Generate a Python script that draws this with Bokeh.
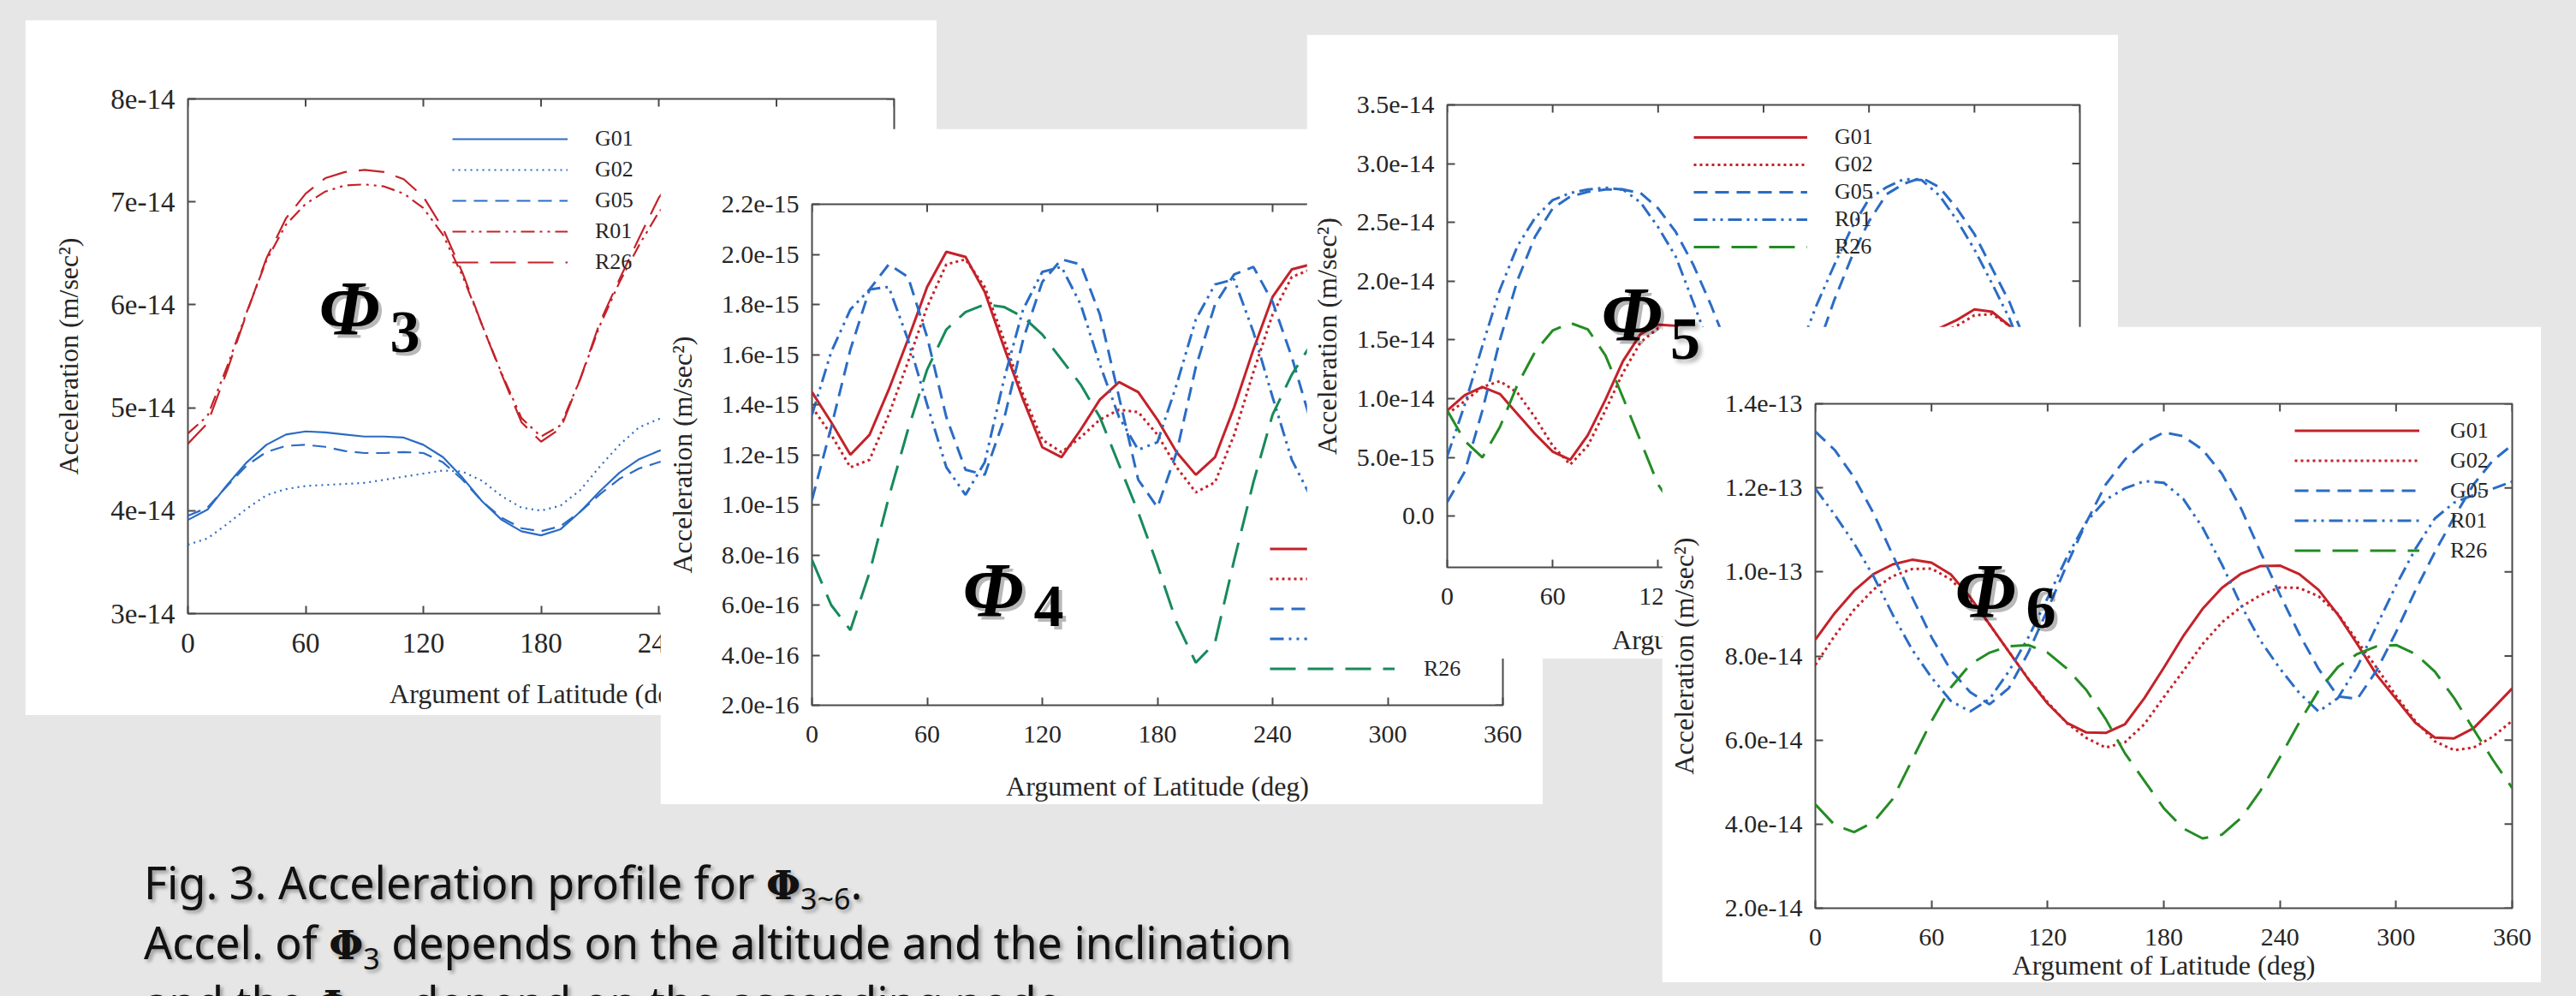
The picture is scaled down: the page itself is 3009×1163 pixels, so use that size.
import math
from bokeh.plotting import figure
from bokeh.models import (GridBox, Range1d, FixedTicker, CustomJSTickFormatter,
                          Legend, LegendItem, Label, Div)
from bokeh.embed import file_html
from bokeh.resources import INLINE
from bokeh.core.properties import value

# ------------------------------------------------------------------ data
SERIES = ["G01", "G02", "G05", "R01", "R26"]
X_TICKS = [0, 60, 120, 180, 240, 300, 360]
X_LABEL = "Argument of Latitude (deg)"
Y_LABEL = "Acceleration (m/sec\u00b2)"

# Phi3 panel (values in 1e-14 m/s^2); only 0..250 deg is visible in the slide
PHI3_DEG = list(range(0, 251, 10))
PHI3_G01 = [3.91, 4.01, 4.25, 4.47, 4.64, 4.74, 4.77, 4.76, 4.74, 4.72, 4.72, 4.71, 4.64,
            4.52, 4.32, 4.09, 3.91, 3.80, 3.76, 3.82, 3.99, 4.19, 4.37, 4.50, 4.58, 4.64]
PHI3_G02 = [3.67, 3.73, 3.87, 4.02, 4.15, 4.21, 4.24, 4.25, 4.26, 4.27, 4.30, 4.33, 4.36,
            4.39, 4.38, 4.29, 4.14, 4.03, 4.00, 4.05, 4.20, 4.43, 4.64, 4.81, 4.89, 4.92]
PHI3_G05 = [3.95, 4.03, 4.24, 4.44, 4.57, 4.63, 4.64, 4.62, 4.58, 4.56, 4.56, 4.57, 4.56,
            4.47, 4.30, 4.09, 3.93, 3.83, 3.80, 3.85, 3.99, 4.16, 4.31, 4.41, 4.47, 4.52]
PHI3_R01 = [4.75, 4.92, 5.40, 5.93, 6.43, 6.78, 6.98, 7.10, 7.16, 7.17, 7.15, 7.08, 6.94,
            6.68, 6.28, 5.80, 5.33, 4.90, 4.72, 4.83, 5.28, 5.80, 6.22, 6.58, 6.90, 7.10]
PHI3_R26 = [4.65, 4.85, 5.36, 5.92, 6.45, 6.84, 7.08, 7.23, 7.29, 7.31, 7.29, 7.22, 7.05,
            6.74, 6.31, 5.80, 5.32, 4.86, 4.67, 4.80, 5.28, 5.83, 6.25, 6.65, 7.04, 7.30]
PHI3_UNIT = 1e-14
PHI3_YTICKS = [3e-14, 4e-14, 5e-14, 6e-14, 7e-14, 8e-14]

# Phi4 panel (values in 1e-15 m/s^2); visible 0..260 deg
PHI4_DEG = list(range(0, 261, 10))
PHI4_G01 = [1.45, 1.33, 1.20, 1.28, 1.46, 1.66, 1.87, 2.01, 1.99, 1.85, 1.63, 1.42, 1.23, 1.19,
            1.30, 1.42, 1.49, 1.45, 1.34, 1.21, 1.12, 1.19, 1.39, 1.62, 1.83, 1.94, 1.96]
PHI4_G02 = [1.39, 1.28, 1.15, 1.18, 1.36, 1.57, 1.79, 1.96, 1.98, 1.87, 1.66, 1.44, 1.26, 1.21,
            1.27, 1.34, 1.38, 1.37, 1.28, 1.15, 1.05, 1.09, 1.28, 1.53, 1.76, 1.91, 1.94]
PHI4_G05 = [1.02, 1.31, 1.62, 1.86, 1.96, 1.91, 1.67, 1.35, 1.14, 1.12, 1.34, 1.66, 1.89, 1.98,
            1.96, 1.76, 1.43, 1.10, 0.99, 1.21, 1.55, 1.80, 1.92, 1.95, 1.81, 1.59, 1.33]
PHI4_R01 = [1.36, 1.61, 1.78, 1.86, 1.87, 1.66, 1.40, 1.15, 1.04, 1.17, 1.50, 1.78, 1.93, 1.95,
            1.80, 1.56, 1.35, 1.22, 1.25, 1.48, 1.74, 1.88, 1.90, 1.69, 1.43, 1.18, 1.03]
PHI4_R26 = [0.78, 0.60, 0.50, 0.73, 1.03, 1.30, 1.54, 1.70, 1.77, 1.80, 1.79, 1.75, 1.68, 1.58,
            1.48, 1.35, 1.16, 0.97, 0.76, 0.53, 0.37, 0.45, 0.78, 1.09, 1.36, 1.52, 1.64]
PHI4_UNIT = 1e-15
PHI4_YTICKS = [2e-16, 4e-16, 6e-16, 8e-16, 1e-15, 1.2e-15, 1.4e-15, 1.6e-15, 1.8e-15, 2e-15, 2.2e-15]

# Phi5 panel (values in 1e-14 m/s^2)
PHI5_DEG = list(range(0, 361, 10))
PHI5_G01 = [0.90, 1.03, 1.10, 1.04, 0.87, 0.70, 0.55, 0.48, 0.69, 0.99, 1.32, 1.55, 1.63,
            1.62, 1.50, 1.30, 1.05, 0.85, 0.75, 0.70, 0.72, 0.80, 0.92, 1.08, 1.25, 1.40,
            1.50, 1.55, 1.60, 1.67, 1.76, 1.74, 1.62, 1.40, 1.15, 1.00, 0.90]
PHI5_G02 = [0.87, 0.98, 1.10, 1.15, 1.05, 0.84, 0.60, 0.44, 0.60, 0.90, 1.22, 1.48, 1.60,
            1.60, 1.48, 1.28, 1.02, 0.80, 0.68, 0.64, 0.66, 0.74, 0.86, 1.02, 1.20, 1.36,
            1.47, 1.52, 1.56, 1.62, 1.71, 1.72, 1.62, 1.42, 1.18, 0.98, 0.87]
PHI5_G05 = [0.12, 0.38, 0.90, 1.50, 2.01, 2.38, 2.62, 2.72, 2.76, 2.78, 2.78, 2.75, 2.62,
            2.42, 2.14, 1.80, 1.42, 1.02, 0.68, 0.55, 0.90, 1.40, 1.83, 2.20, 2.51, 2.74,
            2.83, 2.88, 2.80, 2.62, 2.40, 2.11, 1.82, 1.45, 0.95, 0.48, 0.12]
PHI5_R01 = [0.51, 0.95, 1.45, 1.93, 2.30, 2.54, 2.69, 2.75, 2.78, 2.795, 2.78, 2.67, 2.46,
            2.21, 1.82, 1.42, 1.00, 0.70, 0.68, 0.95, 1.40, 1.79, 2.13, 2.45, 2.70, 2.80,
            2.87, 2.86, 2.73, 2.52, 2.27, 1.98, 1.68, 1.30, 0.95, 0.65, 0.51]
PHI5_R26 = [0.90, 0.64, 0.50, 0.76, 1.12, 1.40, 1.58, 1.645, 1.59, 1.37, 1.01, 0.64, 0.27,
            0.05, 0.00, 0.15, 0.45, 0.80, 1.10, 1.30, 1.38, 1.30, 1.10, 0.80, 0.50, 0.30,
            0.25, 0.40, 0.70, 1.05, 1.35, 1.50, 1.50, 1.40, 1.25, 1.08, 0.90]
PHI5_UNIT = 1e-14
PHI5_YTICKS = [0.0, 5e-15, 1e-14, 1.5e-14, 2e-14, 2.5e-14, 3e-14, 3.5e-14]

# Phi6 panel (values in 1e-14 m/s^2)
PHI6_DEG = list(range(0, 361, 10))
PHI6_G01 = [8.39, 9.02, 9.55, 9.95, 10.18, 10.29, 10.22, 9.94, 9.40, 8.75, 8.10, 7.45, 6.87,
            6.41, 6.18, 6.17, 6.38, 7.00, 7.72, 8.47, 9.12, 9.62, 9.96, 10.14, 10.15, 9.95,
            9.57, 8.98, 8.28, 7.55, 6.98, 6.41, 6.06, 6.04, 6.28, 6.75, 7.23]
PHI6_G02 = [7.79, 8.48, 9.10, 9.58, 9.90, 10.07, 10.08, 9.82, 9.35, 8.75, 8.10, 7.46, 6.90,
            6.40, 6.05, 5.82, 5.95, 6.38, 7.02, 7.64, 8.28, 8.80, 9.17, 9.45, 9.63, 9.62,
            9.42, 9.00, 8.35, 7.72, 7.05, 6.45, 5.97, 5.76, 5.82, 6.08, 6.46]
PHI6_G05 = [13.34, 12.90, 12.25, 11.40, 10.40, 9.40, 8.45, 7.66, 7.14, 6.85, 7.24, 8.08, 9.11,
            10.18, 11.18, 12.08, 12.68, 13.08, 13.32, 13.23, 12.91, 12.34, 11.50, 10.47, 9.46,
            8.52, 7.69, 7.04, 6.98, 7.66, 8.57, 9.56, 10.47, 11.30, 12.08, 12.65, 13.02]
PHI6_R01 = [11.98, 11.36, 10.68, 9.90, 8.98, 8.15, 7.49, 6.93, 6.68, 6.98, 7.64, 8.44, 9.38,
            10.36, 11.19, 11.72, 11.99, 12.16, 12.12, 11.74, 11.06, 10.18, 9.20, 8.36, 7.70,
            7.12, 6.68, 7.00, 7.75, 8.72, 9.68, 10.55, 11.27, 11.65, 11.83, 11.98, 12.15]
PHI6_R26 = [4.47, 3.98, 3.81, 4.05, 4.60, 5.53, 6.45, 7.25, 7.80, 8.08, 8.23, 8.26, 8.08,
            7.70, 7.19, 6.50, 5.68, 5.03, 4.38, 3.90, 3.66, 3.75, 4.15, 4.80, 5.59, 6.42,
            7.18, 7.74, 8.05, 8.23, 8.26, 8.05, 7.63, 7.00, 6.26, 5.53, 4.86]
PHI6_UNIT = 1e-14
PHI6_YTICKS = [2e-14, 4e-14, 6e-14, 8e-14, 1e-13, 1.2e-13, 1.4e-13]

CAPTION_1 = ["Fig. 3. Acceleration profile for ", "\u03a6", "3~6", "."]
CAPTION_2 = ["Accel. of ", "\u03a6", "3", " depends on the altitude and the inclination"]
CAPTION_3 = ["and the ", "\u03a6", "4~6", " depend on the ascending node."]
PANEL_TAGS = ["3", "4", "5", "6"]

# ------------------------------------------------------------------ styles
BG = "#e6e6e6"
FRAME = "#4a4a4a"
TXT = "#262626"
RED = "#c4222a"
BLUE = "#2b6cc4"
GREEN4 = "#178a5c"
GREEN56 = "#248c24"
SERIF = "Liberation Serif"
LABEL_FS = 32
PHI_LIFT = 29      # label anchor sits this far above the wanted glyph bottom (px)
SUB_LIFT = 31

DASH = {"G01": "solid", "G02": "3 4", "G05": "16 9", "R01": "16 6 3 6 3 6", "R26": "30 14"}

# slide pixel geometry: white box (l, t, r, b), plot frame (l, t, r, b),
# phi-tag glyph bottoms (phi, subscript) in slide pixels
PANELS = [
    dict(deg=PHI3_DEG, vals=[PHI3_G01, PHI3_G02, PHI3_G05, PHI3_R01, PHI3_R26], unit=PHI3_UNIT,
         yticks=PHI3_YTICKS, yr=(3e-14, 8e-14), digits=0,
         colors=[BLUE, BLUE, BLUE, RED, RED], lw=2.2, dotdash="2 5",
         box=(29, 23, 1094, 835), frame=(219, 115, 1044, 716), tick_fs=33,
         ylab_s=28, xtick_s=23, xlab_s=27, leg=(309, 392, 135, 32, 36),
         tag=((372, 389), (455, 418))),
    dict(deg=PHI4_DEG, vals=[PHI4_G01, PHI4_G02, PHI4_G05, PHI4_R01, PHI4_R26], unit=PHI4_UNIT,
         yticks=PHI4_YTICKS, yr=(2e-16, 2.2e-15), digits=1,
         colors=[RED, RED, BLUE, BLUE, GREEN4], lw=3, dotdash="3 4",
         box=(771, 150, 1802, 939), frame=(948, 238, 1755, 823), tick_fs=30,
         ylab_s=25, xtick_s=24, xlab_s=30, leg=(535, 25, 146, 34, 35),
         tag=((1124, 718), (1207, 738))),
    dict(deg=PHI5_DEG, vals=[PHI5_G01, PHI5_G02, PHI5_G05, PHI5_R01, PHI5_R26], unit=PHI5_UNIT,
         yticks=PHI5_YTICKS, yr=(-4.35e-15, 3.5e-14), digits=1,
         colors=[RED, RED, BLUE, BLUE, GREEN56], lw=3, dotdash="3 4",
         box=(1526, 40, 2474, 769), frame=(1690, 122, 2429, 662), tick_fs=30,
         ylab_s=14, xtick_s=24, xlab_s=20, leg=(288, 358, 133, 32, 32),
         tag=((1870, 396), None)),
    dict(deg=PHI6_DEG, vals=[PHI6_G01, PHI6_G02, PHI6_G05, PHI6_R01, PHI6_R26], unit=PHI6_UNIT,
         yticks=PHI6_YTICKS, yr=(2e-14, 1.4e-13), digits=1,
         colors=[RED, RED, BLUE, BLUE, GREEN56], lw=3, dotdash="3 4",
         box=(1941, 381, 2968, 1147), frame=(2120, 471, 2934, 1061), tick_fs=30,
         ylab_s=27, xtick_s=24, xlab_s=2, leg=(560, 400, 146, 36, 35),
         tag=((2283, 719), (2366, 741))),
]
CAPTION_BOX = (0, 939, 1941, 1147)
SUB5_BOX = (1941, 350, 2010, 440)     # the phi-5 subscript is pasted over the phi-6 panel


def style_axis(ax, fs, standoff, label_standoff):
    ax.axis_line_color = None
    ax.major_tick_in = 9
    ax.major_tick_out = 0
    ax.major_tick_line_color = FRAME
    ax.major_tick_line_width = 2
    ax.minor_tick_line_color = None
    ax.major_label_text_font = SERIF
    ax.major_label_text_color = TXT
    ax.major_label_text_font_size = f"{fs}px"
    ax.major_label_standoff = standoff
    ax.axis_label_text_font = SERIF
    ax.axis_label_text_font_style = "normal"
    ax.axis_label_text_font_size = f"{LABEL_FS}px"
    ax.axis_label_text_color = TXT
    ax.axis_label_standoff = label_standoff


def add_tag(p, cfg, text, pos, phi):
    """Slide annotation (bold italic phi / bold subscript digit) placed via the panel's scales."""
    fl, ft, fr, fb = cfg["frame"]
    y0, y1 = cfg["yr"]
    px, py = pos
    py -= PHI_LIFT if phi else SUB_LIFT
    for d, col, alpha in ((4, "black", 0.28), (0, "black", 1.0)):
        x = (px + d - fl) / (fr - fl) * 360.0
        y = y1 - (py + d - ft) / (fb - ft) * (y1 - y0)
        p.add_layout(Label(x=x, y=y, text=text, text_font=SERIF,
                           text_font_style="bold italic" if phi else "bold",
                           text_font_size="90px" if phi else "70px",
                           text_color=col, text_alpha=alpha,
                           text_align="left", text_baseline="alphabetic"))


def build_panel(cfg, num):
    L, T, R, B = cfg["box"]
    fl, ft, fr, fb = cfg["frame"]
    y0, y1 = cfg["yr"]
    p = figure(width=R - L, height=B - T, output_backend="svg", toolbar_location=None,
               x_range=Range1d(0, 360), y_range=Range1d(y0, y1),
               min_border_left=fl - L, min_border_right=R - fr,
               min_border_top=ft - T, min_border_bottom=B - fb,
               background_fill_color="white", border_fill_color="white",
               outline_line_color=FRAME, outline_line_width=2)
    p.xgrid.visible = False
    p.ygrid.visible = False
    p.xaxis.ticker = FixedTicker(ticks=X_TICKS)
    p.yaxis.ticker = FixedTicker(ticks=cfg["yticks"])
    p.yaxis.formatter = CustomJSTickFormatter(
        code=f"return tick === 0 ? '0.0' : tick.toExponential({cfg['digits']});")
    p.xaxis.axis_label = X_LABEL
    p.yaxis.axis_label = Y_LABEL
    style_axis(p.xaxis[0], cfg["tick_fs"], cfg["xtick_s"], cfg["xlab_s"])
    style_axis(p.yaxis[0], cfg["tick_fs"], 15, cfg["ylab_s"])

    # mirrored inward ticks on the top and right frame edges (gnuplot style)
    p.scatter(x=X_TICKS, y=[y1] * len(X_TICKS), marker="dash", size=18, angle=math.pi / 2,
              line_color=FRAME, line_width=2)
    p.scatter(x=[360] * len(cfg["yticks"]), y=cfg["yticks"], marker="dash", size=18,
              line_color=FRAME, line_width=2)

    items = []
    for name, vals, col in zip(SERIES, cfg["vals"], cfg["colors"]):
        dash = cfg["dotdash"] if name == "G02" else DASH[name]
        r = p.line(x=cfg["deg"], y=[v * cfg["unit"] for v in vals],
                   line_color=col, line_width=cfg["lw"], line_dash=dash)
        items.append(LegendItem(label=value(name), renderers=[r]))
    vx, vy, gw, ls, pitch = cfg["leg"]
    leg = Legend(items=items, location=(vx, vy), orientation="vertical",
                 glyph_width=gw, glyph_height=pitch, label_height=pitch, spacing=0,
                 padding=0, margin=0, label_standoff=ls,
                 label_text_font=SERIF, label_text_font_size="26px", label_text_color=TXT,
                 background_fill_alpha=0, border_line_alpha=0)
    p.add_layout(leg)

    phi_pos, sub_pos = cfg["tag"]
    add_tag(p, cfg, "\u03a6", phi_pos, True)
    if sub_pos is not None:
        add_tag(p, cfg, num, sub_pos, False)
    return p


# ------------------------------------------------------------------ caption (HTML text)
PHI_HTML = "<b style=\"font-family:'DejaVu Serif';font-size:46px;\">{}</b>"
SUB_HTML = "<span style=\"font-size:34px;vertical-align:-12px;line-height:0;\">{}</span>"
lines_html = []
for head, phi_txt, sub_txt, tail in (CAPTION_1, CAPTION_2, CAPTION_3):
    lines_html.append(head + PHI_HTML.format(phi_txt) + SUB_HTML.format(sub_txt) + tail)
caption_html = (
    "<div style=\"padding-left:168px;padding-top:58px;white-space:nowrap;"
    "font-family:'Noto Sans';font-size:52px;line-height:65px;color:#111111;"
    "text-shadow:3px 3px 4px rgba(0,0,0,0.35);\">" + "<br>".join(lines_html) + "</div>")
l, t, r, b = CAPTION_BOX
caption = Div(text=caption_html, width=r - l, height=b - t, margin=0)

l, t, r, b = SUB5_BOX
sub5 = Div(text=("<div style=\"padding-left:10px;padding-top:11px;font-family:'Liberation Serif';"
                 "font-weight:bold;font-size:70px;line-height:70px;color:#000000;"
                 "text-shadow:4px 4px 5px rgba(0,0,0,0.3);\">" + PANEL_TAGS[2] + "</div>"),
           width=r - l, height=b - t, margin=0)

panels = [build_panel(c, n) for c, n in zip(PANELS, PANEL_TAGS)]

# ------------------------------------------------------------------ overlapping grid layout
boxes = [CAPTION_BOX, SUB5_BOX] + [c["box"] for c in PANELS]
xs = sorted(set([0, 2993] + [v for bx in boxes for v in (bx[0], bx[2])]))
ys = sorted(set([0, 1147] + [v for bx in boxes for v in (bx[1], bx[3])]))
cols = [f"{q - p}px" for p, q in zip(xs, xs[1:])]
rows = [f"{q - p}px" for p, q in zip(ys, ys[1:])]


def cell(model, bx):
    c0, c1 = xs.index(bx[0]), xs.index(bx[2])
    r0, r1 = ys.index(bx[1]), ys.index(bx[3])
    return (model, r0, c0, r1 - r0, c1 - c0)


children = ([cell(caption, CAPTION_BOX)] + [cell(f, c["box"]) for f, c in zip(panels, PANELS)]
            + [cell(sub5, SUB5_BOX)])
root = GridBox(children=children, rows=rows, cols=cols, spacing=0,
               styles={"background-color": BG})

html = file_html(root, INLINE)
html = html.replace("</head>", "<style>html, body {background-color: #e6e6e6;}</style></head>", 1)
open("out.html", "w").write(html)
